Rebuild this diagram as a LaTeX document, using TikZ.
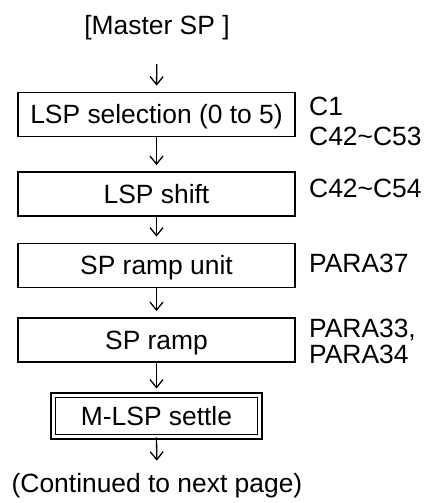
\documentclass[tikz,border=0pt]{standalone}
\usepackage{fontspec}
\setmainfont{Liberation Sans}
\usetikzlibrary{arrows.meta}
\begin{document}
\begin{tikzpicture}[x=1pt,y=-1pt,
  every node/.style={font=\fontsize{26.4}{30}\selectfont, inner sep=0pt},
  box/.style={draw, line width=1.8pt, minimum width=277pt, minimum height=44pt,
    text height=18.9pt, text depth=0pt},
  settlebox/.style={draw, line width=1.4pt, double, double distance=3pt,
    minimum width=206.5pt, minimum height=41.5pt, text height=18.9pt, text depth=0pt},
  flow/.style={line width=1.3pt, -{Straight Barb[length=8pt,width=13pt]}, shorten >=6pt},
  lbl/.style={anchor=base west}]
\useasboundingbox (0,0) rectangle (426,503);
\node[anchor=base] (master) at (157,34.5) {[Master SP ]};
\node[box] (b1) at (156.5,114.5) {LSP selection (0 to 5)};
\node[box] (b2) at (156.5,194) {LSP shift};
\node[box] (b3) at (156.5,265.5) {SP ramp unit};
\node[box] (b4) at (156.5,340) {SP ramp};
\node[settlebox] (b5) at (156.5,416) {M-LSP settle};
\node[anchor=base] (cont) at (157,492) {(Continued to next page)};
\node[lbl] (l1a) at (309,115) {C1};
\node[lbl] (l1b) at (309,145) {C42\textasciitilde C53};
\node[lbl] (l2) at (309,197) {C42\textasciitilde C54};
\node[lbl] (l3) at (309,272) {PARA37};
\node[lbl] (l4a) at (309,337) {PARA33,};
\node[lbl] (l4b) at (309,363) {PARA34};
\draw[flow, shorten <=24pt] (master.south) -- (b1.north);
\draw[flow] (b1.south) -- (b2.north);
\draw[flow] (b2.south) -- (b3.north);
\draw[flow] (b3.south) -- (b4.north);
\draw[flow] (b4.south) -- (b5.north);
\draw[flow, shorten >=12pt] (b5.south) -- (cont.north);
\end{tikzpicture}
\end{document}
